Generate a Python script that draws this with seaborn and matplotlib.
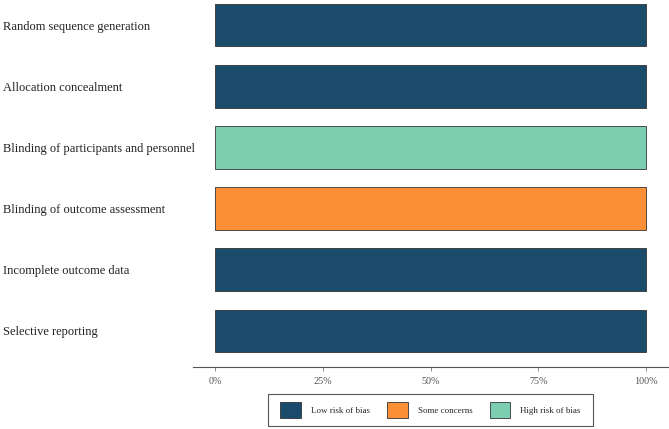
import matplotlib
matplotlib.use("Agg")
import matplotlib.pyplot as plt
from matplotlib.patches import Patch, Rectangle
from matplotlib.ticker import PercentFormatter
import pandas as pd
import seaborn as sns

# risk-of-bias domains and their judgement (every study in one category)
domains = [
    "Random sequence generation",
    "Allocation concealment",
    "Blinding of participants and personnel",
    "Blinding of outcome assessment",
    "Incomplete outcome data",
    "Selective reporting",
]
judgements = [
    "Low risk of bias",
    "Low risk of bias",
    "High risk of bias",
    "Some concerns",
    "Low risk of bias",
    "Low risk of bias",
]
percent = [100, 100, 100, 100, 100, 100]

levels = ["Low risk of bias", "Some concerns", "High risk of bias"]
colors = ["#1b4b6b", "#fb8f35", "#7ecfb1"]
palette = dict(zip(levels, colors))

df = pd.DataFrame({"domain": domains, "judgement": judgements, "percent": percent})

sns.set_style("white")
plt.rcParams["font.family"] = ["Liberation Serif", "DejaVu Serif"]

fig = plt.figure(figsize=(6.69, 4.29), dpi=100)
ax = fig.add_axes([0.2885, 0.1445, 0.7115, 0.8555])

sns.barplot(data=df, y="domain", x="percent", hue="judgement", hue_order=levels,
            palette=palette, dodge=False, width=0.7, orient="h", saturation=1,
            edgecolor="#333333", linewidth=0.6, legend=False, ax=ax)

ax.set_xlim(-5.1, 105.3)
ax.set_ylim(5.59, -0.41)
ax.set_xticks([0, 25, 50, 75, 100])
ax.xaxis.set_major_formatter(PercentFormatter(decimals=0))
ax.set_xlabel("")
ax.set_ylabel("")

for side in ["top", "right", "left"]:
    ax.spines[side].set_visible(False)
ax.spines["bottom"].set_color("#555555")
ax.spines["bottom"].set_linewidth(0.8)

ax.tick_params(axis="x", length=3, width=0.6, color="#777777", labelsize=7.3,
               labelcolor="#555555", pad=4, bottom=True)
ax.tick_params(axis="y", length=0, labelsize=9, labelcolor="#222222", pad=136.8)
for lab in ax.get_yticklabels():
    lab.set_horizontalalignment("left")

# legend below the plot, with a wider plain box drawn around it
handles = [Patch(facecolor=c, edgecolor="#333333", linewidth=0.6) for c in colors]
fig.legend(handles, levels, loc="center", bbox_to_anchor=(0.6435, 0.0443), ncol=3,
           frameon=False, fontsize=6.5, handlelength=2.3, handleheight=2.3,
           columnspacing=1.9, handletextpad=1.1, borderpad=0.3)
fig.patches.append(Rectangle((0.4006, 0.0070), 0.4858, 0.0746, transform=fig.transFigure,
                             fill=False, edgecolor="#555555", linewidth=0.8))

fig.savefig("out.png", dpi=100)
